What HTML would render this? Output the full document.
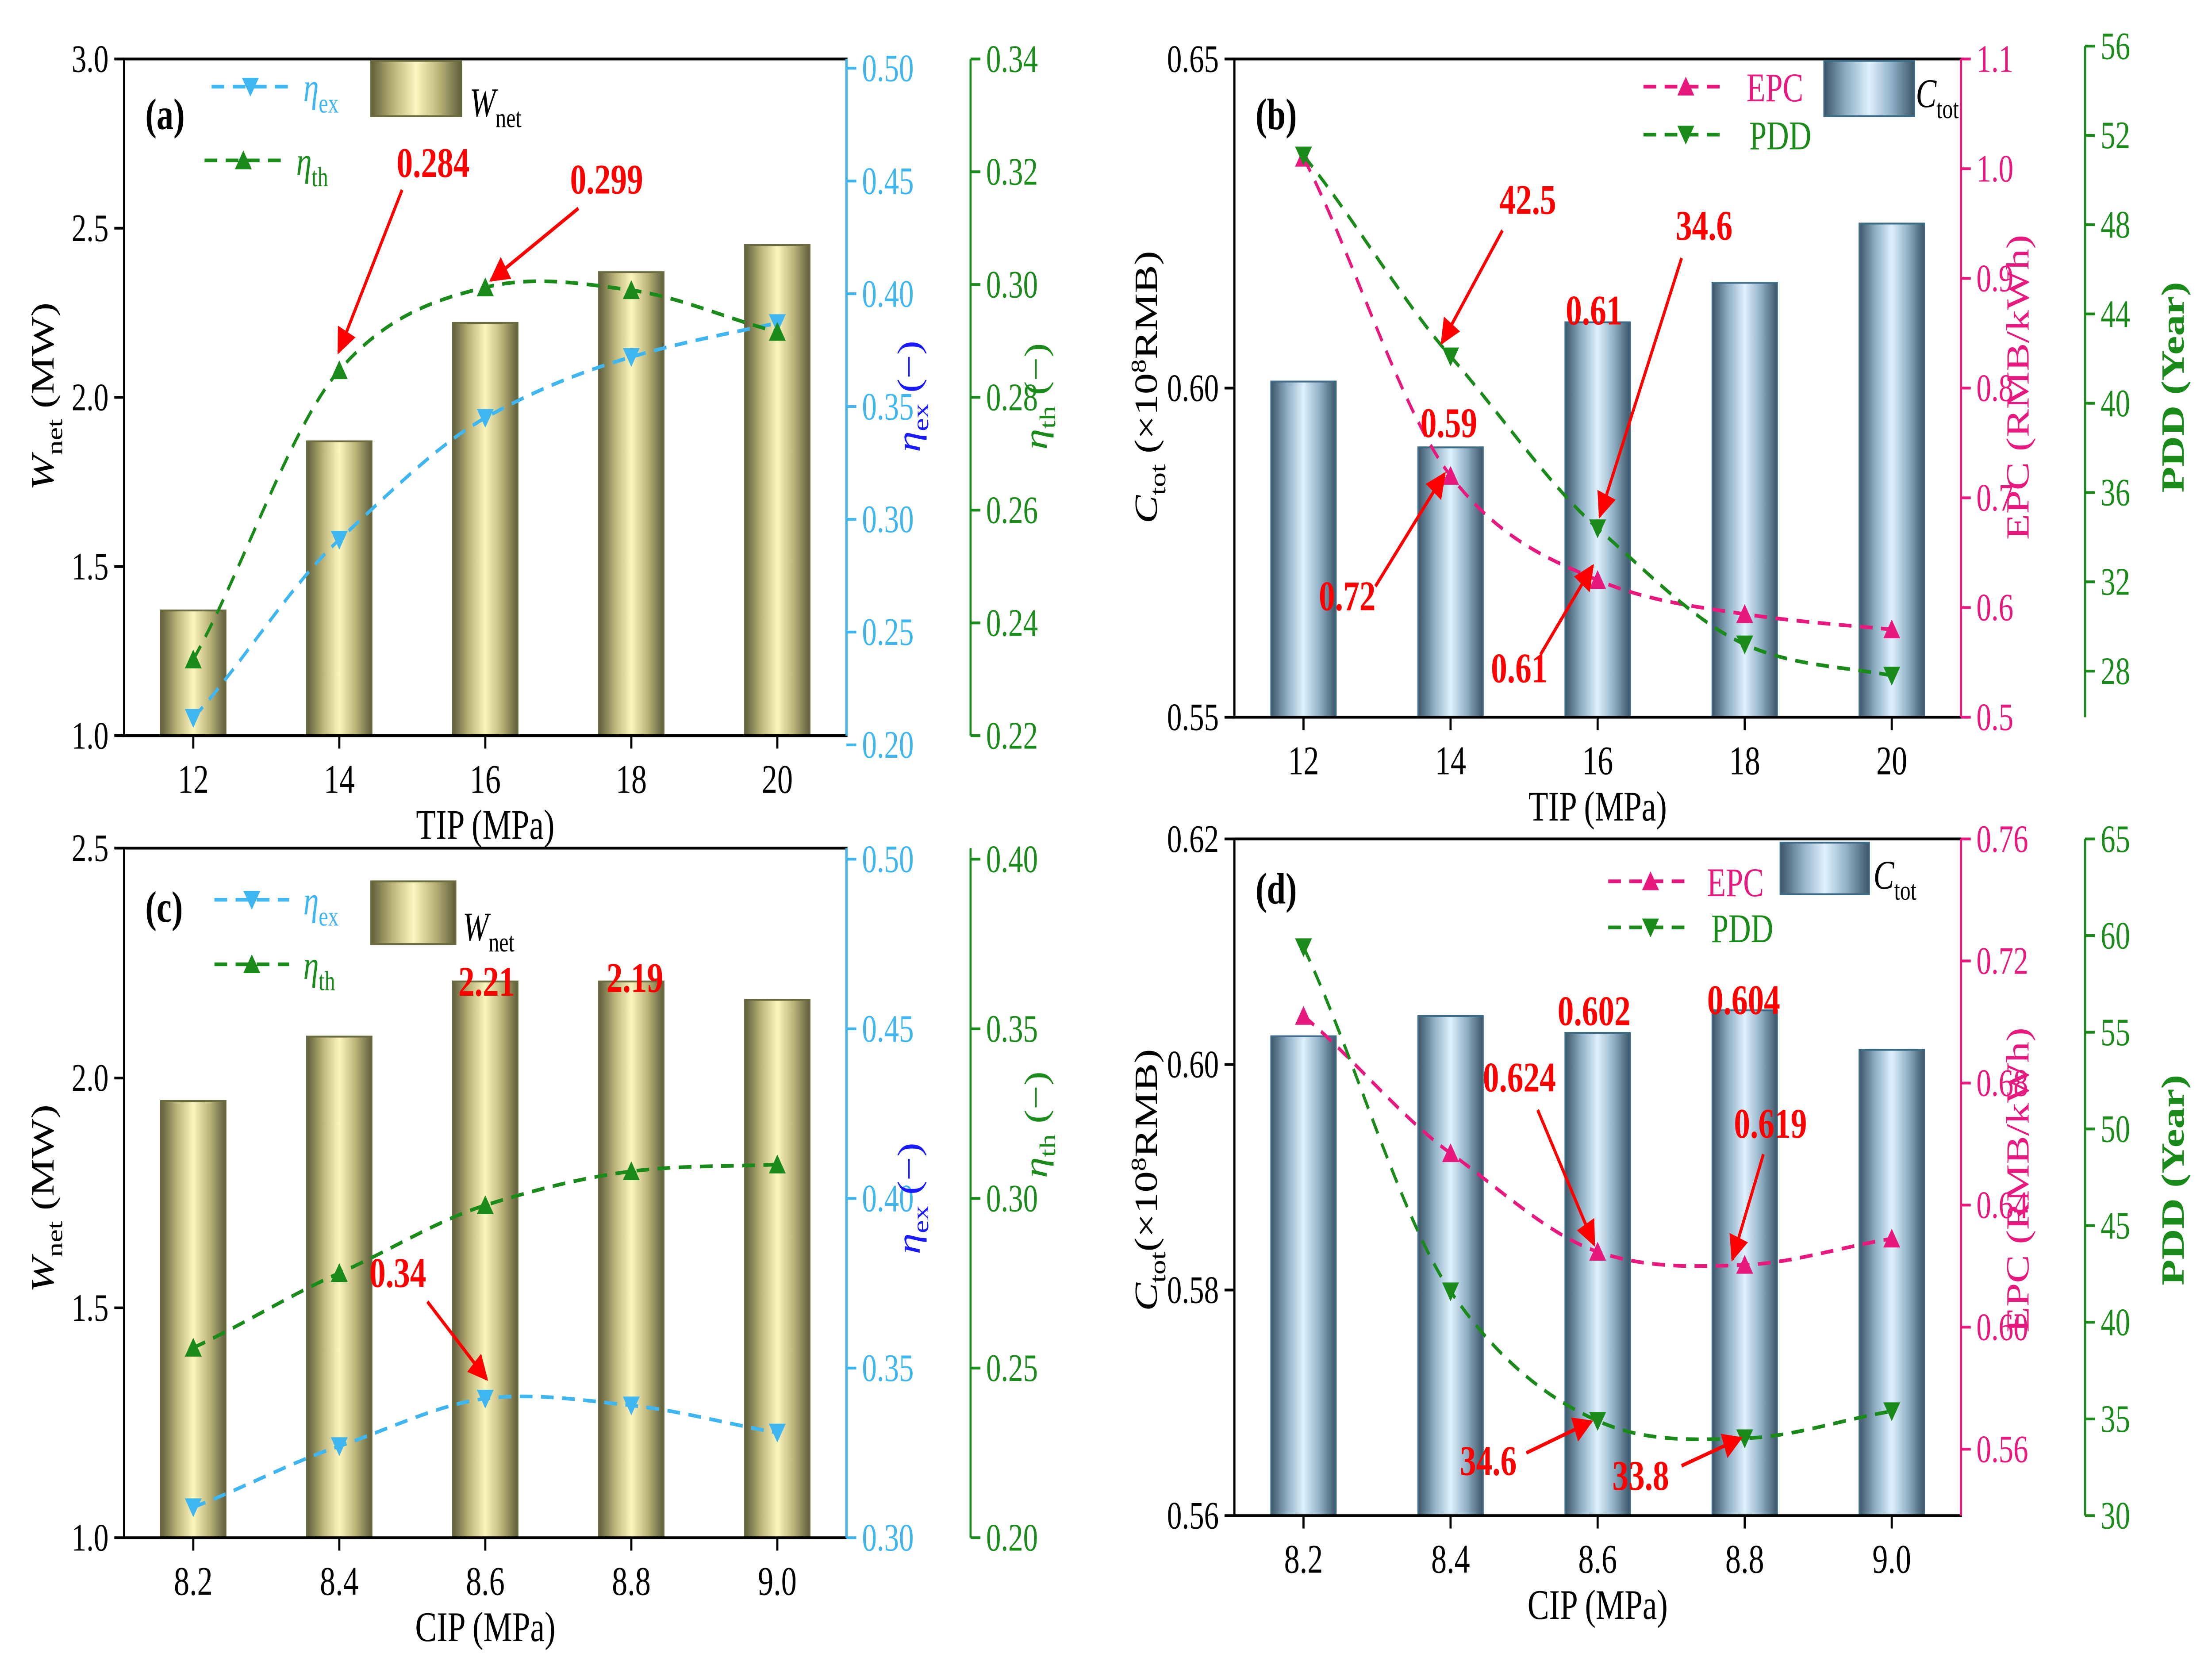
<!DOCTYPE html>
<html><head><meta charset="utf-8"><style>
html,body{margin:0;padding:0;background:#fff;overflow:hidden;width:100vw;height:100vh;}
svg{display:block;position:fixed;left:0;top:0;width:100vw;height:100vh;font-family:"Liberation Serif",serif;}
</style></head><body>
<svg id="fig" xmlns="http://www.w3.org/2000/svg" viewBox="0 0 1568 909" preserveAspectRatio="none">
<defs>
<linearGradient id="gy" x1="0" x2="1" y1="0" y2="0">
<stop offset="0" stop-color="#5e5e3a"/><stop offset="0.25" stop-color="#bcb57a"/><stop offset="0.5" stop-color="#fbf6bf"/><stop offset="0.75" stop-color="#bcb57a"/><stop offset="1" stop-color="#5e5e3a"/></linearGradient>
<linearGradient id="gb" x1="0" x2="1" y1="0" y2="0">
<stop offset="0" stop-color="#3b5566"/><stop offset="0.25" stop-color="#8fb0c6"/><stop offset="0.5" stop-color="#dff1fc"/><stop offset="0.75" stop-color="#8fb0c6"/><stop offset="1" stop-color="#3b5566"/></linearGradient>
<marker id="arr" viewBox="0 0 10 10" refX="9" refY="5" markerWidth="7" markerHeight="7" orient="auto-start-reverse"><path d="M0,0 L10,5 L0,10 z" fill="#ff0000"/></marker>
</defs>
<g id="root"></g>
</svg>
<script>
// ---- data ----
const catsTIP = ["12","14","16","18","20"];
const catsCIP = ["8.2","8.4","8.6","8.8","9.0"];
const wnetA = [1.37,1.87,2.22,2.37,2.45];
const etaExA = [0.212,0.291,0.345,0.372,0.387];
const etaThA = [0.2335,0.2848,0.2995,0.299,0.2916];
const ctotB = [0.601,0.591,0.610,0.616,0.625];
const epcB = [1.01,0.72,0.625,0.594,0.58];
const pddB = [51.1,42.1,34.4,29.2,27.8];
const wnetC = [1.95,2.09,2.21,2.21,2.17];
const etaExC = [0.309,0.327,0.341,0.339,0.331];
const etaThC = [0.256,0.278,0.298,0.308,0.31];
const ctotD = [0.6025,0.6043,0.6028,0.6048,0.6013];
const epcD = [0.702,0.657,0.6247,0.6204,0.629];
const pddD = [59.4,41.6,34.9,34.0,35.4];

const NS="http://www.w3.org/2000/svg";
const root=document.getElementById('root');
function mk(tag,attrs,parent,text){const e=document.createElementNS(NS,tag);for(const k in attrs)e.setAttribute(k,attrs[k]);if(text!==undefined)e.textContent=text;(parent||root).appendChild(e);return e;}
function lin(d0,d1,r0,r1){return v=>r0+(v-d0)/(d1-d0)*(r1-r0);}
function tri(g,x,y,down,color){const s=6;const p=down?`${x-s},${y-s*0.8} ${x+s},${y-s*0.8} ${x},${y+s*0.9}`:`${x-s},${y+s*0.8} ${x+s},${y+s*0.8} ${x},${y-s*0.9}`;const t=mk('polygon',{points:p,fill:color},g);}
function fmt(v,d){return v.toFixed(d);}

function axisY(g,x,y0,y1,scale,ticks,dec,color,side,name){
  const a=mk('g',{},g);
  mk('line',{x1:x,x2:x,y1:y0,y2:y1,stroke:color,'stroke-width':1.5},a);
  ticks.forEach(t=>{const y=scale(t);const dx=side<0?-7:7;
    mk('line',{x1:x,x2:x+dx,y1:y,y2:y,stroke:color,'stroke-width':1.5},a);
    const tx=mk('text',{x:x+(side<0?-11:11),y:y+7,'font-size':21,fill:color,'text-anchor':side<0?'end':'start'},a,fmt(t,dec));
    });
}

function panel(o){
  const g=mk('g',{});
  const {x0,x1,y0,y1}=o;
  const xs=o.cats.map((c,i)=>x0+49+i*(x1-x0-98)/4);
  o.bars.forEach((v,i)=>{const y=o.ly(v);const r=mk('rect',{x:xs[i]-23,y:y,width:46,height:y1-y,fill:o.grad,stroke:o.barStroke,'stroke-width':1},g);
    });
  mk('rect',{x:x0,y:y0,width:x1-x0,height:y1-y0,fill:'none',stroke:'#000','stroke-width':1.5},g);
  xs.forEach((x,i)=>{mk('line',{x1:x,x2:x,y1:y1,y2:y1+7,stroke:'#000','stroke-width':1.5},g);
    const t=mk('text',{x:x,y:y1+31,'font-size':22,'text-anchor':'middle'},g,o.cats[i]);});
  const xl=mk('text',{x:(x0+x1)/2,y:y1+56,'font-size':23,'text-anchor':'middle'},g,o.xlabel);
  axisY(g,x0,y0,y1,o.ly,o.lt,o.ld,'#000',-1,'left-axis');
  axisY(g,x1,o.r1y0,y1,o.r1,o.r1t,o.r1d,o.c1,1,'right-axis-1');
  axisY(g,o.r2x,o.r2y0,y1,o.r2,o.r2t,o.r2d,o.c2,1,'right-axis-2');
  [[o.s1,o.r1,o.c1,o.m1down,'series-1'],[o.s2,o.r2,o.c2,o.m2down,'series-2']].forEach(([s,sc,c,dn,nm])=>{
    const sg=mk('g',{},g);
    const pts=s.map((v,i)=>[xs[i],sc(v)]);
    let d='M'+pts[0][0]+','+pts[0][1];
    for(let i=1;i<pts.length;i++){const p0=pts[i-1],p1=pts[i];const cx=(p1[0]-p0[0])/3;
      const pm=pts[i-2]||p0,pn=pts[i+1]||p1;
      const s0=(p1[1]-pm[1])/(p1[0]-pm[0])*0.9,s1=(pn[1]-p0[1])/(pn[0]-p0[0])*0.9;
      d+=` C${p0[0]+cx},${p0[1]+s0*cx} ${p1[0]-cx},${p1[1]-s1*cx} ${p1[0]},${p1[1]}`;}
    mk('path',{d:d,fill:'none',stroke:c,'stroke-width':2,'stroke-dasharray':'9,6'},sg);
    pts.forEach(p=>tri(sg,p[0],p[1],dn,c));
  });
  return {g,xs};
}
function txt(g,x,y,s,attrs,name){const t=mk('text',Object.assign({x:x,y:y},attrs),g);t.innerHTML=s;return t;}
function red(g,x,y,s){return txt(g,x,y,s,{'font-size':23,'font-weight':'bold',fill:'#ff0000','text-anchor':'middle'},'annotation');}
function arrow(g,x1,y1,x2,y2){const l=mk('line',{x1,y1,x2,y2,stroke:'#ff0000','stroke-width':2,'marker-end':'url(#arr)'},g);}
function legLine(g,x1,x2,y,c,down,label,lx,name){const lg=mk('g',{},g);
  mk('line',{x1,x2,y1:y,y2:y,stroke:c,'stroke-width':2,'stroke-dasharray':'9,6'},lg);tri(lg,(x1+x2)/2,y,down,c);
  txt(lg,lx,y+8,label,{'font-size':22,fill:c},'legend-label');}
function legBar(g,x,y,w,h,grad,stroke,label,lx,ly,name){const lg=mk('g',{},g);
  mk('rect',{x,y,width:w,height:h,fill:grad,stroke:stroke},lg);txt(lg,lx,ly,label,{'font-size':22},'legend-label');}
function rotLabel(g,x,y,s,c,name){const t=txt(g,x,y,s,{'font-size':23,fill:c,'text-anchor':'middle',transform:`rotate(-90 ${x} ${y})`},name);return t;}

// ---- (a) ----
let A=panel({name:'panel-a',x0:88,x1:600,y0:32,y1:399,cats:catsTIP,bars:wnetA,grad:'url(#gy)',barStroke:'#6b6b40',
 ly:lin(1,3,399,32),lt:[1,1.5,2,2.5,3],ld:1,
 r1:lin(0.2,0.5,404,37),r1y0:32,r1t:[0.2,0.25,0.3,0.35,0.4,0.45,0.5],r1d:2,c1:'#3fb6f0',
 r2x:688,r2:lin(0.22,0.34,399,32),r2y0:32,r2t:[0.22,0.24,0.26,0.28,0.30,0.32,0.34],r2d:2,c2:'#1a8a1a',
 s1:etaExA,m1down:true,s2:etaThA,m2down:false,xlabel:'TIP (MPa)'});
txt(A.g,103,70,'(a)',{'font-size':24,'font-weight':'bold'},'panel-label');
legLine(A.g,150,205,47,'#3fb6f0',true,'<tspan font-style="italic">η</tspan><tspan font-size="15" dy="6">ex</tspan>',215,'legend-eta-ex');
legLine(A.g,145,200,87,'#1a8a1a',false,'<tspan font-style="italic">η</tspan><tspan font-size="15" dy="6">th</tspan>',210,'legend-eta-th');
legBar(A.g,263,33,64,30,'url(#gy)','#6b6b40','<tspan font-style="italic">W</tspan><tspan font-size="15" dy="6">net</tspan>',333,63,'legend-wnet');
red(A.g,307,96,'0.284');arrow(A.g,285,103,240,191);
red(A.g,430,105,'0.299');arrow(A.g,410,113,348,152);
rotLabel(A.g,38,215,'<tspan font-style="italic">W</tspan><tspan font-size="16" dy="6">net</tspan><tspan dy="-6"> (MW)</tspan>','#000','left-axis-title');
rotLabel(A.g,652,215,'<tspan font-style="italic">η</tspan><tspan font-size="16" dy="6">ex</tspan><tspan dy="-6"> (−)</tspan>','#1a1aff','right-axis-1-title');
rotLabel(A.g,742,215,'<tspan font-style="italic">η</tspan><tspan font-size="16" dy="6">th</tspan><tspan dy="-6"> (−)</tspan>','#1a8a1a','right-axis-2-title');

// ---- (b) ----
let B=panel({name:'panel-b',x0:875,x1:1390,y0:32,y1:389,cats:catsTIP,bars:ctotB,grad:'url(#gb)',barStroke:'#3d6a86',
 ly:lin(0.55,0.65,389,32),lt:[0.55,0.60,0.65],ld:2,
 r1:lin(0.5,1.1,389,32),r1y0:32,r1t:[0.5,0.6,0.7,0.8,0.9,1.0,1.1],r1d:1,c1:'#e8197e',
 r2x:1478,r2:lin(28,56,364,25),r2y0:25,r2t:[28,32,36,40,44,48,52,56],r2d:0,c2:'#1a8a1a',
 s1:epcB,m1down:false,s2:pddB,m2down:true,xlabel:'TIP (MPa)'});
txt(B.g,890,70,'(b)',{'font-size':24,'font-weight':'bold'},'panel-label');
legLine(B.g,1165,1225,47,'#e8197e',false,'EPC',1238,'legend-epc');
legLine(B.g,1165,1225,73,'#1a8a1a',true,'PDD',1240,'legend-pdd');
legBar(B.g,1293,33,64,30,'url(#gb)','#3d6a86','<tspan font-style="italic">C</tspan><tspan font-size="15" dy="6">tot</tspan>',1358,58,'legend-ctot');
red(B.g,1027,237,'0.59');red(B.g,1130,176,'0.61');
red(B.g,1083,116,'42.5');arrow(B.g,1065,125,1022,186);
red(B.g,1208,130,'34.6');arrow(B.g,1192,140,1134,280);
red(B.g,955,331,'0.72');arrow(B.g,975,318,1024,257);
red(B.g,1077,370,'0.61');arrow(B.g,1092,355,1129,307);
rotLabel(B.g,820,210,'<tspan font-style="italic">C</tspan><tspan font-size="16" dy="6">tot</tspan><tspan dy="-6"> (×10</tspan><tspan font-size="15" dy="-8">8</tspan><tspan dy="8">RMB)</tspan>','#000','left-axis-title');
rotLabel(B.g,1438,210,'EPC (RMB/kWh)','#e8197e','right-axis-1-title');
rotLabel(B.g,1548,210,'PDD (Year)','#1a8a1a','right-axis-2-title');
B.g.lastChild.setAttribute('font-weight','bold');

// ---- (c) ----
let C=panel({name:'panel-c',x0:88,x1:600,y0:460,y1:834,cats:catsCIP,bars:wnetC,grad:'url(#gy)',barStroke:'#6b6b40',
 ly:lin(1,2.5,834,460),lt:[1,1.5,2,2.5],ld:1,
 r1:lin(0.3,0.5,834,466),r1y0:460,r1t:[0.3,0.35,0.4,0.45,0.5],r1d:2,c1:'#3fb6f0',
 r2x:688,r2:lin(0.2,0.4,834,466),r2y0:460,r2t:[0.2,0.25,0.3,0.35,0.4],r2d:2,c2:'#1a8a1a',
 s1:etaExC,m1down:true,s2:etaThC,m2down:false,xlabel:'CIP (MPa)'});
txt(C.g,103,500,'(c)',{'font-size':24,'font-weight':'bold'},'panel-label');
legLine(C.g,152,205,488,'#3fb6f0',true,'<tspan font-style="italic">η</tspan><tspan font-size="15" dy="6">ex</tspan>',215,'legend-eta-ex');
legLine(C.g,152,205,523,'#1a8a1a',false,'<tspan font-style="italic">η</tspan><tspan font-size="15" dy="6">th</tspan>',215,'legend-eta-th');
legBar(C.g,263,478,60,34,'url(#gy)','#6b6b40','<tspan font-style="italic">W</tspan><tspan font-size="15" dy="6">net</tspan>',328,510,'legend-wnet');
red(C.g,345,540,'2.21');red(C.g,450,538,'2.19');
red(C.g,282,698,'0.34');arrow(C.g,303,706,345,748);
rotLabel(C.g,38,650,'<tspan font-style="italic">W</tspan><tspan font-size="16" dy="6">net</tspan><tspan dy="-6"> (MW)</tspan>','#000','left-axis-title');
rotLabel(C.g,652,650,'<tspan font-style="italic">η</tspan><tspan font-size="16" dy="6">ex</tspan><tspan dy="-6"> (−)</tspan>','#1a1aff','right-axis-1-title');
rotLabel(C.g,742,610,'<tspan font-style="italic">η</tspan><tspan font-size="16" dy="6">th</tspan><tspan dy="-6"> (−)</tspan>','#1a8a1a','right-axis-2-title');

// ---- (d) ----
let D=panel({name:'panel-d',x0:875,x1:1390,y0:455,y1:822,cats:catsCIP,bars:ctotD,grad:'url(#gb)',barStroke:'#3d6a86',
 ly:lin(0.56,0.62,822,455),lt:[0.56,0.58,0.60,0.62],ld:2,
 r1:lin(0.56,0.76,786,455),r1y0:455,r1t:[0.56,0.60,0.64,0.68,0.72,0.76],r1d:2,c1:'#e8197e',
 r2x:1478,r2:lin(30,65,822,455),r2y0:455,r2t:[30,35,40,45,50,55,60,65],r2d:0,c2:'#1a8a1a',
 s1:epcD,m1down:false,s2:pddD,m2down:true,xlabel:'CIP (MPa)'});
txt(D.g,890,490,'(d)',{'font-size':24,'font-weight':'bold'},'panel-label');
legLine(D.g,1140,1200,478,'#e8197e',false,'EPC',1210,'legend-epc');
legLine(D.g,1140,1200,503,'#1a8a1a',true,'PDD',1213,'legend-pdd');
legBar(D.g,1262,457,63,28,'url(#gb)','#3d6a86','<tspan font-style="italic">C</tspan><tspan font-size="15" dy="6">tot</tspan>',1328,482,'legend-ctot');
red(D.g,1130,556,'0.602');red(D.g,1236,550,'0.604');
red(D.g,1077,592,'0.624');arrow(D.g,1090,602,1130,675);
red(D.g,1255,617,'0.619');arrow(D.g,1250,626,1228,683);
red(D.g,1055,800,'34.6');arrow(D.g,1082,788,1128,771);
red(D.g,1163,808,'33.8');arrow(D.g,1192,795,1234,780);
rotLabel(D.g,820,640,'<tspan font-style="italic">C</tspan><tspan font-size="16" dy="6">tot</tspan><tspan dy="-6">(×10</tspan><tspan font-size="15" dy="-8">8</tspan><tspan dy="8">RMB)</tspan>','#000','left-axis-title');
rotLabel(D.g,1438,640,'EPC (RMB/kWh)','#e8197e','right-axis-1-title');
rotLabel(D.g,1548,640,'PDD (Year)','#1a8a1a','right-axis-2-title');
D.g.lastChild.setAttribute('font-weight','bold');
</script>
</body></html>
